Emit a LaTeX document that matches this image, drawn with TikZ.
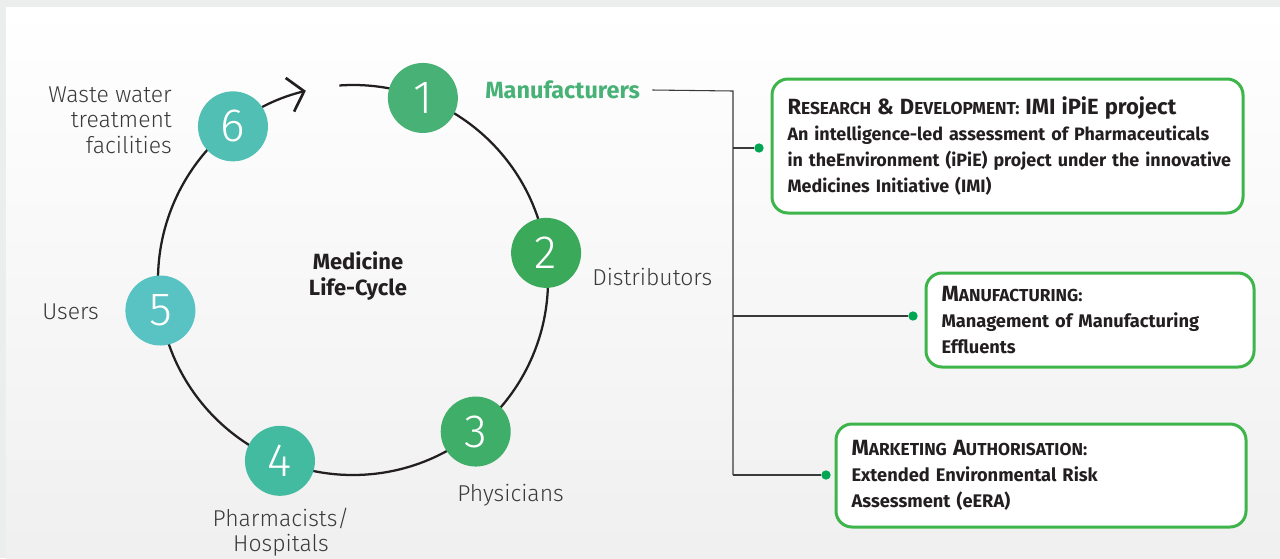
\documentclass[tikz,border=0pt]{standalone}
\usepackage{fontspec}
\setmainfont{Fira Sans}
\newfontfamily\lightfont{Fira Sans Light}
\usepackage{xcolor}
\usetikzlibrary{arrows.meta,positioning}

\definecolor{stageone}{HTML}{47B176}
\definecolor{stagetwo}{HTML}{3AA95A}
\definecolor{stagethree}{HTML}{3FAE69}
\definecolor{stagefour}{HTML}{43BBA0}
\definecolor{stagefive}{HTML}{58C3C2}
\definecolor{stagesix}{HTML}{52BFB5}
\definecolor{boxgreen}{HTML}{3DB54A}
\definecolor{dotgreen}{HTML}{00A651}
\definecolor{labelgray}{HTML}{3A3A3A}
\definecolor{inkblack}{HTML}{231F20}
\definecolor{edgegray}{HTML}{ECEEED}

\newcommand\capsc[2]{{\fontsize{16.5pt}{19pt}\selectfont#1}{\fontsize{13pt}{19pt}\selectfont#2}}

\begin{document}
\begin{tikzpicture}
  [
    x=0.75pt,y=-0.75pt,
    stage/.style={circle,inner sep=0pt,minimum size=52.5pt,text=white,font=\lightfont\fontsize{35pt}{35pt}\selectfont},
    actor/.style={inner sep=0pt,text=labelgray,font=\lightfont\fontsize{17.2pt}{19pt}\selectfont},
    cycleline/.style={draw=inkblack,line width=1.7pt},
    feed/.style={draw=labelgray,line width=0.8pt},
    dot/.style={circle,fill=dotgreen,inner sep=0pt,minimum size=7pt},
    infobox/.style={draw=boxgreen,line width=2.25pt,fill=white,rounded corners=12pt,inner xsep=10.5pt,inner ysep=0pt,
      align=left,text=inkblack,font=\bfseries\fontsize{13.7pt}{19.5pt}\selectfont}
  ]
  % frame and background
  \fill[edgegray] (0,0) rectangle (1280,558);
  \shade[top color=white,bottom color=black!6] (6,7) rectangle (1280,558);
  \useasboundingbox (0,0) rectangle (1280,558);

  % life cycle
  \coordinate (ctr) at (353,280);
  \coordinate (gapstart) at ([shift={(-94:195)}]ctr);
  \draw[cycleline,-{Straight Barb[length=11pt,width=26pt,line width=2pt]}]
    (gapstart) arc[start angle=-94,end angle=256,radius=195];

  \node[stage,fill=stageone] at ([shift={(-69:195)}]ctr) (s1) {1};
  \node[stage,fill=stagetwo] at ([shift={(-8:195)}]ctr) (s2) {2};
  \node[stage,fill=stagethree] at ([shift={(51:195)}]ctr) (s3) {3};
  \node[stage,fill=stagefour] at ([shift={(112:195)}]ctr) (s4) {4};
  \node[stage,fill=stagefive] at ([shift={(171:195)}]ctr) (s5) {5};
  \node[stage,fill=stagesix] at ([shift={(232:195)}]ctr) (s6) {6};

  \node[align=center,text=inkblack,font=\bfseries\fontsize{16.5pt}{20pt}\selectfont] at (358,276) (title) {Medicine\\Life-Cycle};

  \node[inner sep=0pt,anchor=west,text=stageone,font=\bfseries\fontsize{17.6pt}{19pt}\selectfont] at (485,90) (mfr) {Manufacturers};
  \node[actor,anchor=west] at (592,277) (dist) {Distributors};
  \node[actor,anchor=west] at (457,495) (phys) {Physicians};
  \node[actor,align=center] at (281,532) (pharm) {Pharmacists/\\Hospitals};
  \node[actor,anchor=west] at (42,312) (users) {Users};
  \node[actor,align=right,anchor=east] at (172,120) (waste) {Waste water\\treatment\\facilities};

  % manufacturer responsibilities
  \coordinate (trunktop) at (733,91);
  \coordinate (trunkA) at (733,148);
  \coordinate (trunkB) at (733,316);
  \coordinate (trunkC) at (733,475);
  \node[dot] at (759,148) (dotA) {};
  \node[dot] at (913,316) (dotB) {};
  \node[dot] at (826,475) (dotC) {};
  \draw[feed] ([xshift=9pt]mfr.east) -- (trunktop) -- (trunkC);
  \draw[feed] (trunkA) -- (dotA);
  \draw[feed] (trunkB) -- (dotB);
  \draw[feed] (trunkC) -- (dotC);

  \node[infobox,minimum width=353.25pt,minimum height=100.5pt,text width=330pt,
    font=\bfseries\fontsize{13.45pt}{19.5pt}\selectfont] at (1007.5,146) (rnd)
    {\capsc{R}{ESEARCH} {\fontsize{16.5pt}{19pt}\selectfont\&} \capsc{D}{EVELOPMENT:} {\fontsize{16.5pt}{19pt}\selectfont IMI iPiE project}\\
     An intelligence-led assessment of Pharmaceuticals\\
     \mbox{in theEnvironment (iPiE) project under the innovative}\\
     Medicines Initiative (IMI)};
  \node[infobox,minimum width=246pt,minimum height=70.5pt,text width=222.75pt] at (1090,320) (manuf)
    {\capsc{M}{ANUFACTURING:}\\
     Management of Manufacturing\\
     Effluents};
  \node[infobox,minimum width=307.5pt,minimum height=77.25pt,text width=284.25pt] at (1041,475.5) (auth)
    {\capsc{M}{ARKETING} \capsc{A}{UTHORISATION:}\\
     Extended Environmental Risk\\
     Assessment (eERA)};
\end{tikzpicture}
\end{document}
